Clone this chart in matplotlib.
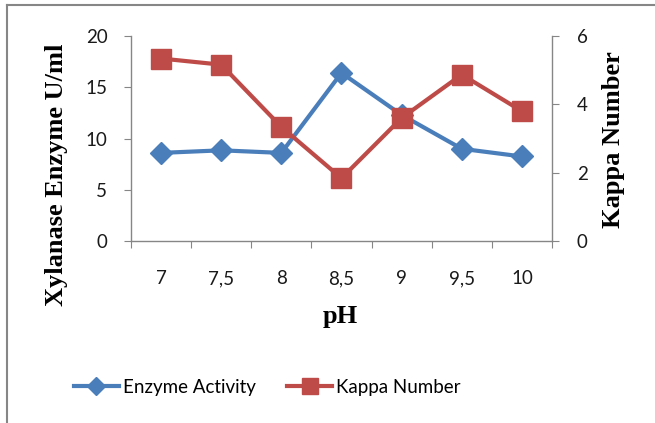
import matplotlib.pyplot as plt
import numpy as np
from matplotlib.lines import Line2D

# data
ph_labels = ['7', '7,5', '8', '8,5', '9', '9,5', '10']
enzyme_activity = [8.6, 8.85, 8.6, 16.4, 12.3, 9.0, 8.25]
kappa_number = [5.34, 5.16, 3.34, 1.84, 3.6, 4.87, 3.8]

blue = '#4A7EBB'
red = '#BE4B48'
grey = '#868686'
tick_font = 'Lato'
label_font = 'Liberation Serif'

fig = plt.figure(figsize=(6.55, 4.23), dpi=100)
ax = fig.add_axes([0.2, 0.43, 0.6427, 0.485])
ax2 = ax.twinx()

x = np.arange(len(ph_labels))
ax.plot(x, enzyme_activity, color=blue, lw=3, marker='D', ms=11,
        label='Enzyme Activity', zorder=3)
ax2.plot(x, kappa_number, color=red, lw=3, marker='s', ms=15,
         label='Kappa Number', zorder=3)

ax.set_xlim(-0.5, len(ph_labels) - 0.5)
ax.set_ylim(0, 20)
ax.set_yticks([0, 5, 10, 15, 20])
ax2.set_ylim(0, 6)
ax2.set_yticks([0, 2, 4, 6])
ax.set_xticks(np.arange(-0.5, len(ph_labels), 1.0))
ax.set_xticklabels([])
ax.set_xticks(x, minor=True)
ax.set_xticklabels(ph_labels, minor=True)

for a in (ax, ax2):
    for s in a.spines.values():
        s.set_visible(False)
ax.spines['left'].set_visible(True)
ax.spines['bottom'].set_visible(True)
ax2.spines['right'].set_visible(True)
for s in (ax.spines['left'], ax.spines['bottom'], ax2.spines['right']):
    s.set_color(grey)
    s.set_linewidth(1)

ax.tick_params(axis='y', which='major', direction='out', length=5, color=grey,
               labelsize=13.5, pad=12)
ax.tick_params(axis='x', which='major', direction='out', length=5, color=grey)
ax.tick_params(axis='x', which='minor', length=0, labelsize=13.5, pad=21)
ax2.tick_params(axis='y', direction='out', length=5, color=grey,
                labelsize=13.5, pad=13)
for lab in ax.get_yticklabels() + ax.get_xticklabels(minor=True) + ax2.get_yticklabels():
    lab.set_fontfamily(tick_font)
    lab.set_color('#1a1a1a')

# axis titles placed where the reference has them
title_kw = dict(fontfamily=label_font, fontweight='bold', fontsize=19,
                ha='center', va='center')
fig.text(0.519, 0.251, 'pH', **title_kw)
fig.text(0.087, 0.586, 'Xylanase Enzyme U/ml', rotation=90, **title_kw)
fig.text(0.936, 0.669, 'Kappa Number', rotation=90, **title_kw)

handles = [Line2D([], [], color=blue, lw=3, marker='D', ms=9),
           Line2D([], [], color=red, lw=3, marker='s', ms=12)]
fig.legend(handles, ['Enzyme Activity', 'Kappa Number'], loc='center',
           bbox_to_anchor=(0.408, 0.085), ncol=2, frameon=False,
           prop={'family': tick_font, 'size': 13.5}, handlelength=2.4,
           handletextpad=0.2, columnspacing=1.7)

# chart border (partially cropped in the reference)
fig.add_artist(Line2D([0.0107, 0.0107], [0, 0.988], color=grey, lw=1.5,
                      transform=fig.transFigure))
fig.add_artist(Line2D([0.0107, 1], [0.988, 0.988], color=grey, lw=1.5,
                      transform=fig.transFigure))

fig.savefig('out.png', dpi=100)
